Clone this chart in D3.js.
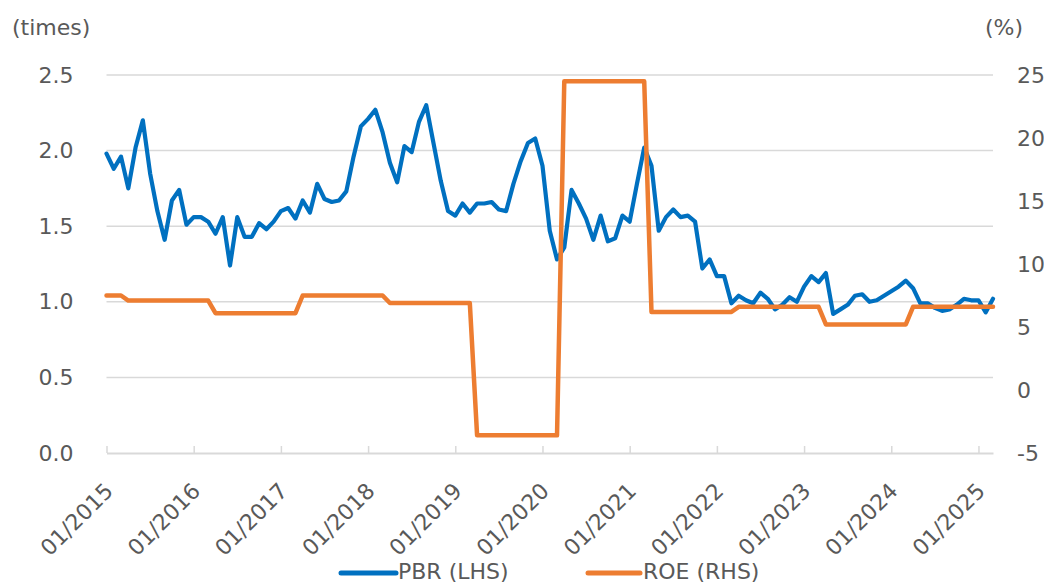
<!DOCTYPE html>
<html>
<head>
<meta charset="utf-8">
<script src="https://cdn.jsdelivr.net/npm/d3@7/dist/d3.min.js"></script>
<style>
  html, body { margin: 0; padding: 0; background: #fff; }
  svg { display: block; }
  text { font-family: "DejaVu Sans", Verdana, sans-serif; fill: #595959; }
</style>
</head>
<body>
<svg id="chart" width="1044" height="583"></svg>
<script>
// Monthly observations, 01/2015 - 03/2025
const months = d3.timeMonth.range(new Date(2015, 0, 1), new Date(2025, 3, 1));
const monthFmt = d3.timeFormat("%m/%Y");
const categories = months.map(monthFmt);

// Price-to-book ratio (times), left axis
const pbr = [
  1.98, 1.88, 1.96, 1.75, 2.02, 2.20, 1.85, 1.60, 1.41, 1.67, 1.74, 1.51,
  1.56, 1.56, 1.53, 1.45, 1.56, 1.24, 1.56, 1.43, 1.43, 1.52, 1.48, 1.53,
  1.60, 1.62, 1.55, 1.67, 1.59, 1.78, 1.68, 1.66, 1.67, 1.73, 1.96, 2.16,
  2.21, 2.27, 2.12, 1.92, 1.79, 2.03, 1.99, 2.19, 2.30, 2.05, 1.80, 1.60,
  1.57, 1.65, 1.59, 1.65, 1.65, 1.66, 1.61, 1.60, 1.78, 1.93, 2.05, 2.08,
  1.90, 1.47, 1.28, 1.36, 1.74, 1.65, 1.55, 1.41, 1.57, 1.40, 1.42, 1.57,
  1.53, 1.78, 2.02, 1.90, 1.47, 1.56, 1.61, 1.56, 1.57, 1.53, 1.22, 1.28,
  1.17, 1.17, 0.99, 1.04, 1.01, 0.99, 1.06, 1.02, 0.95, 0.98, 1.03, 1.00,
  1.10, 1.17, 1.13, 1.19, 0.92, 0.95, 0.98, 1.04, 1.05, 1.00, 1.01, 1.04,
  1.07, 1.10, 1.14, 1.09, 0.99, 0.99, 0.96, 0.94, 0.95, 0.98, 1.02, 1.01,
  1.01, 0.93, 1.02
];

// Return on equity (%), right axis; changes each April
const roe = [
  7.5, 7.5, 7.5,
  7.1, 7.1, 7.1, 7.1, 7.1, 7.1, 7.1, 7.1, 7.1, 7.1, 7.1, 7.1,
  6.1, 6.1, 6.1, 6.1, 6.1, 6.1, 6.1, 6.1, 6.1, 6.1, 6.1, 6.1,
  7.5, 7.5, 7.5, 7.5, 7.5, 7.5, 7.5, 7.5, 7.5, 7.5, 7.5, 7.5,
  6.9, 6.9, 6.9, 6.9, 6.9, 6.9, 6.9, 6.9, 6.9, 6.9, 6.9, 6.9,
  -3.6, -3.6, -3.6, -3.6, -3.6, -3.6, -3.6, -3.6, -3.6, -3.6, -3.6, -3.6,
  24.5, 24.5, 24.5, 24.5, 24.5, 24.5, 24.5, 24.5, 24.5, 24.5, 24.5, 24.5,
  6.2, 6.2, 6.2, 6.2, 6.2, 6.2, 6.2, 6.2, 6.2, 6.2, 6.2, 6.2,
  6.6, 6.6, 6.6, 6.6, 6.6, 6.6, 6.6, 6.6, 6.6, 6.6, 6.6, 6.6,
  5.2, 5.2, 5.2, 5.2, 5.2, 5.2, 5.2, 5.2, 5.2, 5.2, 5.2, 5.2,
  6.6, 6.6, 6.6, 6.6, 6.6, 6.6, 6.6, 6.6, 6.6, 6.6, 6.6, 6.6
];

const leftTicks = [0.0, 0.5, 1.0, 1.5, 2.0, 2.5];
const rightTicks = [-5, 0, 5, 10, 15, 20, 25];
const xTickLabels = categories.filter(c => c.startsWith("01/"));
const seriesNames = ["PBR (LHS)", "ROE (RHS)"];
const colors = ["#0070C0", "#ED7D31"];

const svg = d3.select("#chart");
const plot = { left: 106.5, right: 993, top: 75, bottom: 453 };
const grid = "#D9D9D9";

const x = d3.scalePoint().domain(categories).range([plot.left, plot.right]);
const yL = d3.scaleLinear().domain([0, 2.5]).range([plot.bottom, plot.top]);
const yR = d3.scaleLinear().domain([-5, 25]).range([plot.bottom, plot.top]);

// Horizontal gridlines
svg.append("g").selectAll("line").data(leftTicks.filter(d => d > 0)).join("line")
  .attr("x1", plot.left).attr("x2", plot.right)
  .attr("y1", d => yL(d)).attr("y2", d => yL(d))
  .attr("stroke", grid).attr("stroke-width", 1.5);

// Bottom axis with inward ticks at each January
const xAxis = d3.axisBottom(x).tickValues(xTickLabels).tickSize(-7).tickSizeOuter(0).tickFormat("");
const gx = svg.append("g").attr("transform", `translate(0,${plot.bottom})`).call(xAxis);
gx.select(".domain").attr("stroke", grid).attr("stroke-width", 1.8);
gx.selectAll(".tick line").attr("stroke", grid).attr("stroke-width", 1.5);
gx.selectAll(".tick").append("text")
  .attr("transform", "translate(2,34) rotate(-45)")
  .attr("text-anchor", "end")
  .attr("dy", "0.35em")
  .attr("font-size", 22)
  .text(d => d);

// Left axis labels
const gl = svg.append("g").attr("transform", `translate(${plot.left},0)`)
  .call(d3.axisLeft(yL).tickValues(leftTicks).tickSize(0).tickPadding(33).tickFormat(d3.format(".1f")));
gl.select(".domain").remove();
gl.selectAll("text").attr("font-size", 22).attr("fill", "#595959").attr("font-family", "DejaVu Sans");

// Right axis labels (plain hyphen for negatives)
const gr = svg.append("g").attr("transform", `translate(${plot.right},0)`)
  .call(d3.axisRight(yR).tickValues(rightTicks).tickSize(0).tickPadding(24).tickFormat(d => String(d)));
gr.select(".domain").remove();
gr.selectAll("text").attr("font-size", 22).attr("fill", "#595959").attr("font-family", "DejaVu Sans");

// Unit captions
svg.append("text").attr("x", 12).attr("y", 35).attr("font-size", 22).text("(times)");
svg.append("text").attr("x", 985).attr("y", 35).attr("font-size", 22).text("(%)");

// Series lines
const linePBR = d3.line().x((d, i) => x(categories[i])).y(d => yL(d));
const lineROE = d3.line().x((d, i) => x(categories[i])).y(d => yR(d));

svg.append("path").datum(pbr).attr("d", linePBR)
  .attr("fill", "none").attr("stroke", colors[0]).attr("stroke-width", 4.2)
  .attr("stroke-linejoin", "round").attr("stroke-linecap", "round");
svg.append("path").datum(roe).attr("d", lineROE)
  .attr("fill", "none").attr("stroke", colors[1]).attr("stroke-width", 4.5)
  .attr("stroke-linejoin", "round").attr("stroke-linecap", "round");

// Legend
const legendItems = [
  { name: seriesNames[0], color: colors[0], x0: 341, x1: 396, tx: 398 },
  { name: seriesNames[1], color: colors[1], x0: 588, x1: 640, tx: 643 }
];
const lg = svg.append("g");
legendItems.forEach(it => {
  lg.append("line").attr("x1", it.x0).attr("x2", it.x1).attr("y1", 573).attr("y2", 573)
    .attr("stroke", it.color).attr("stroke-width", 5).attr("stroke-linecap", "round");
  lg.append("text").attr("x", it.tx).attr("y", 579).attr("font-size", 22).text(it.name);
});
</script>
</body>
</html>
